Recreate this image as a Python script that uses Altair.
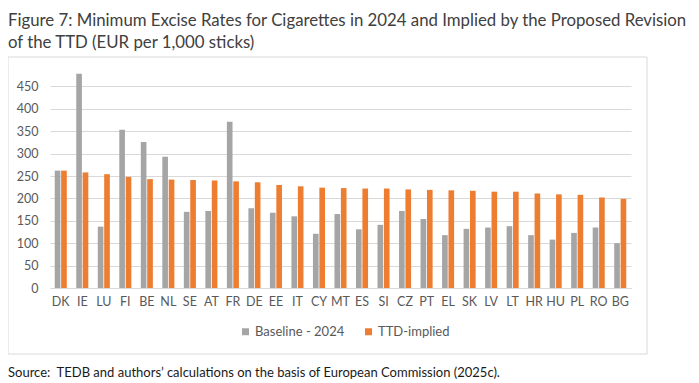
import altair as alt
import pandas as pd

countries = ["DK", "IE", "LU", "FI", "BE", "NL", "SE", "AT", "FR", "DE", "EE", "IT", "CY", "MT",
             "ES", "SI", "CZ", "PT", "EL", "SK", "LV", "LT", "HR", "HU", "PL", "RO", "BG"]
baseline = [262, 478, 137, 353, 326, 293, 170, 172, 371, 178, 168, 160, 121, 165,
            131, 141, 172, 154, 118, 132, 135, 138, 118, 108, 123, 135, 100]
ttd = [262, 258, 254, 248, 243, 242, 241, 240, 238, 236, 230, 227, 224, 223,
       222, 222, 220, 219, 218, 217, 215, 215, 211, 209, 208, 202, 199]
series = ["Baseline - 2024", "TTD-implied"]
colors = ["#a5a5a5", "#ed7d31"]
y_ticks = [0, 50, 100, 150, 200, 250, 300, 350, 400, 450]
title_lines = ["Figure 7: Minimum Excise Rates for Cigarettes in 2024 and Implied by the Proposed Revision",
               "of the TTD (EUR per 1,000 sticks)"]
source_text = "Source:\u00a0\u00a0TEDB and authors\u2019 calculations on the basis of European Commission (2025c)."

rows = []
for c, b, t in zip(countries, baseline, ttd):
    rows.append({"country": c, "series": series[0], "value": b})
    rows.append({"country": c, "series": series[1], "value": t})
df = pd.DataFrame(rows)

FONT = "Lato"

bars = alt.Chart(df).mark_bar().encode(
    x=alt.X("country:N", sort=countries, title=None,
            scale=alt.Scale(paddingInner=0.44, paddingOuter=0.22),
            axis=alt.Axis(labelAngle=0, ticks=False, domain=True, domainColor="#d9d9d9",
                          labelColor="#595959", labelFont=FONT, labelFontSize=12.5,
                          labelPadding=7)),
    xOffset=alt.XOffset("series:N", sort=series, scale=alt.Scale(paddingInner=0.12)),
    y=alt.Y("value:Q", title=None,
            scale=alt.Scale(domain=[0, 500], nice=False),
            axis=alt.Axis(values=y_ticks, ticks=False, domain=False, gridColor="#d9d9d9",
                          labelColor="#595959", labelFont=FONT, labelFontSize=12.5,
                          labelPadding=12)),
    color=alt.Color("series:N", sort=series,
                    scale=alt.Scale(domain=series, range=colors),
                    legend=alt.Legend(title=None, orient="none", direction="horizontal",
                                      legendX=189, legendY=261, symbolType="square",
                                      symbolSize=49, symbolStrokeWidth=0,
                                      labelFont=FONT, labelFontSize=13, labelColor="#595959",
                                      labelOffset=3, columnPadding=17)),
)

frame = alt.Chart(pd.DataFrame({"k": [0]})).mark_rect(
    fillOpacity=0, stroke="#d9d9d9", strokeWidth=1
).encode(x=alt.value(-42), x2=alt.value(597), y=alt.value(-7), y2=alt.value(290))

source = alt.Chart(pd.DataFrame({"t": [source_text]})).mark_text(
    align="left", baseline="middle", font=FONT, fontSize=13, color="#1a1a1a"
).encode(text="t:N", x=alt.value(-42), y=alt.value(309))

chart = alt.layer(frame, bars, source).properties(
    width=581, height=224,
    title=alt.Title(title_lines, anchor="start", frame="group", dx=-42, offset=5,
                    font=FONT, fontSize=16.8, fontWeight="normal", color="#404040",
                    lineHeight=22),
    autosize=alt.AutoSizeParams(type="none"),
    padding={"left": 42, "top": 56, "right": 60, "bottom": 93},
).configure_view(stroke=None)

chart.save("out.html", embed_options={"renderer": "svg", "actions": False})
